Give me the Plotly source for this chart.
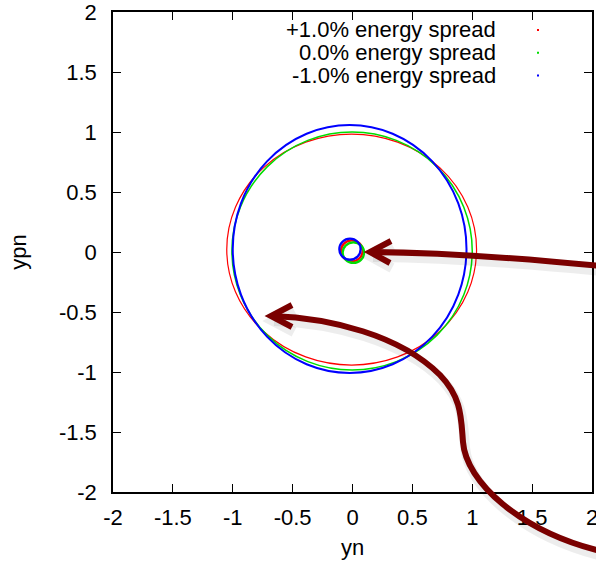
import plotly.graph_objects as go

# ---------------- data ----------------
series_names = ["+1.0% energy spread", "0.0% energy spread", "-1.0% energy spread"]

# large orbits: bounding box in data units (yn, ypn)
large_x0 = [-1.050, -1.007, -1.000]
large_x1 = [1.036, 1.000, 0.952]
large_y0 = [-0.942, -0.983, -1.008]
large_y1 = [0.983, 1.000, 1.058]

# small orbits near the origin
small_x0 = [-0.096, -0.082, -0.110]
small_x1 = [0.085, 0.097, 0.068]
small_y0 = [-0.078, -0.091, -0.064]
small_y1 = [0.097, 0.081, 0.111]

tick_vals = [-2, -1.5, -1, -0.5, 0, 0.5, 1, 1.5, 2]
tick_text = ["-2", "-1.5", "-1", "-0.5", "0", "0.5", "1", "1.5", "2"]

# ---------------- styling ----------------
W, H = 596, 562
ML, MR, MT, MB = 113, 4, 12, 70
PW, PH = W - ML - MR, H - MT - MB
FONT = "Liberation Sans, Arial, Helvetica, sans-serif"
FS = 22
colors = ["#ff0000", "#00dd00", "#0000ff"]
large_w = [1.2, 1.5, 2.0]
small_w = [2.3, 2.3, 2.3]
ARROW = "#7a0000"


def px2p(px, py):
    return (px - ML) / PW, (H - MB - py) / PH


def path_from(cmds, dx=0, dy=0):
    out = []
    for c in cmds:
        op, pts = c[0], c[1:]
        s = op
        for i in range(0, len(pts), 2):
            x, y = px2p(pts[i] + dx, pts[i + 1] + dy)
            s += f" {x:.5f},{y:.5f}"
        out.append(s)
    return " ".join(out)


fig = go.Figure()
fig.add_trace(go.Scatter(x=[None], y=[None], mode="markers", showlegend=False,
                         hoverinfo="skip"))

for i in range(3):
    fig.add_shape(type="circle", xref="x", yref="y",
                  x0=large_x0[i], x1=large_x1[i], y0=large_y0[i], y1=large_y1[i],
                  line=dict(color=colors[i], width=large_w[i]))
for i in range(3):
    fig.add_shape(type="circle", xref="x", yref="y",
                  x0=small_x0[i], x1=small_x1[i], y0=small_y0[i], y1=small_y1[i],
                  line=dict(color=colors[i], width=small_w[i]))

# legend (text right-aligned, tiny sample dot on the right, gnuplot style)
leg_y = [30, 52.7, 75.5]
for i, name in enumerate(series_names):
    tx, ty = px2p(498, leg_y[i])
    fig.add_annotation(x=tx, y=ty, xref="paper", yref="paper", text=name,
                       showarrow=False, xanchor="right", yanchor="middle",
                       font=dict(family=FONT, size=FS, color="#000000"))
    a0 = px2p(537, leg_y[i] - 1)
    a1 = px2p(539, leg_y[i] + 1)
    fig.add_shape(type="rect", xref="paper", yref="paper",
                  x0=a0[0], x1=a1[0], y0=a1[1], y1=a0[1],
                  line=dict(width=0), fillcolor=colors[i])

# hand-drawn style arrows (annotation overlay)
arrow1 = [("M", 600, 266), ("Q", 470, 253, 371, 252)]
head1 = [("M", 391, 241), ("L", 370, 252), ("L", 390, 263)]
arrow2 = [("M", 600, 551),
          ("C", 520, 531, 466, 482, 463, 442),
          ("C", 461, 418, 462, 398, 440, 375),
          ("C", 400, 335, 330, 318, 272, 316)]
head2 = [("M", 292, 305), ("L", 271, 316), ("L", 292, 327)]

for cmds in (arrow1, head1, arrow2, head2):
    fig.add_shape(type="path", xref="paper", yref="paper",
                  path=path_from(cmds, 2, 5),
                  line=dict(color="rgba(0,0,0,0.07)", width=10))
for cmds in (arrow1, head1, arrow2, head2):
    fig.add_shape(type="path", xref="paper", yref="paper",
                  path=path_from(cmds),
                  line=dict(color=ARROW, width=6))

axis_common = dict(range=[-2, 2], tickvals=tick_vals, ticktext=tick_text,
                   ticks="inside", ticklen=8, tickwidth=1.2, tickcolor="#000000",
                   showline=True, linecolor="#000000", linewidth=1.5,
                   mirror="ticks", showgrid=False, zeroline=False,
                   tickfont=dict(family=FONT, size=FS, color="#000000"),
                   fixedrange=True, automargin=False, ticklabeloverflow="allow")

fig.update_layout(
    width=W, height=H,
    margin=dict(l=ML, r=MR, t=MT, b=MB, pad=0),
    paper_bgcolor="white", plot_bgcolor="white",
    showlegend=False,
    xaxis=dict(**axis_common, ticklabelstandoff=5,
               title=dict(text="yn", font=dict(family=FONT, size=FS, color="#000000"),
                          standoff=10)),
    yaxis=dict(**axis_common, ticklabelstandoff=10,
               title=dict(text="ypn", font=dict(family=FONT, size=FS, color="#000000"),
                          standoff=26)),
)

fig.write_html("out.html")
